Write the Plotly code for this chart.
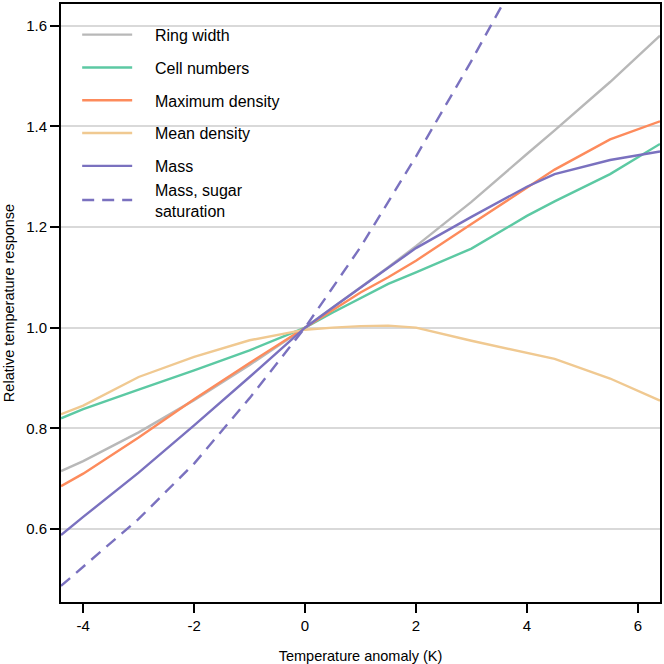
import plotly.graph_objects as go

# Temperature anomaly (K) sample points
temp = [-4.4, -4, -3, -2, -1, 0, 0.5, 1, 1.5, 2, 3, 4, 4.5, 5.5, 6.4]

ring_width = [0.715, 0.735, 0.792, 0.856, 0.926, 1.0, 1.04, 1.08, 1.12, 1.162, 1.25, 1.345, 1.392, 1.488, 1.58]
cell_numbers = [0.82, 0.838, 0.877, 0.915, 0.955, 1.0, 1.03, 1.058, 1.087, 1.11, 1.157, 1.222, 1.251, 1.305, 1.365]
max_density = [0.685, 0.71, 0.782, 0.858, 0.93, 1.0, 1.035, 1.07, 1.1, 1.133, 1.206, 1.278, 1.314, 1.374, 1.41]
mean_density = [0.828, 0.845, 0.902, 0.942, 0.975, 0.996, 1.0, 1.003, 1.004, 1.0, 0.974, 0.95, 0.938, 0.899, 0.855]
mass = [0.588, 0.624, 0.712, 0.806, 0.902, 1.0, 1.04, 1.08, 1.119, 1.158, 1.22, 1.28, 1.305, 1.333, 1.35]

temp_sugar = [-4.4, -4, -3, -2, -1, 0, 1, 2, 3, 4]
mass_sugar = [0.487, 0.525, 0.62, 0.73, 0.86, 1.0, 1.16, 1.34, 1.53, 1.73]

x_ticks = [-4, -2, 0, 2, 4, 6]
x_ticklabels = ["-4", "-2", "0", "2", "4", "6"]
y_ticks = [0.6, 0.8, 1.0, 1.2, 1.4, 1.6]
y_ticklabels = ["0.6", "0.8", "1.0", "1.2", "1.4", "1.6"]

pad = "\u00a0" * 4
# name, x, y, colour, dash, legend group (the two mass lines share one so no gap between them)
series = [
    ("Ring width", temp, ring_width, "#b8b8b8", "solid", "a"),
    ("Cell numbers", temp, cell_numbers, "#5cc9a3", "solid", "b"),
    ("Maximum density", temp, max_density, "#fd8b5c", "solid", "c"),
    ("Mean density", temp, mean_density, "#f0c991", "solid", "d"),
    ("Mass", temp, mass, "#7a71bf", "solid", "e"),
    ("Mass, sugar<br>" + pad + "saturation", temp_sugar, mass_sugar, "#7a71bf", "12px,8px", "e"),
]

fig = go.Figure()
for name, xs, ys, col, dash, grp in series:
    fig.add_trace(go.Scatter(
        x=xs, y=ys, mode="lines", name=pad + name, legendgroup=grp,
        line=dict(color=col, width=2.4, dash=dash),
    ))

axis_common = dict(
    showline=True, linecolor="#000000", linewidth=2, mirror=True,
    ticks="outside", ticklen=9, tickwidth=2, tickcolor="#000000",
    zeroline=False, tickfont=dict(size=15),
)

fig.update_layout(
    width=664, height=664,
    margin=dict(l=61, r=2, t=2, b=62),
    plot_bgcolor="white", paper_bgcolor="white",
    font=dict(family="Liberation Sans, Arial, sans-serif", color="black"),
    legend=dict(x=0.027, y=0.977, xanchor="left", yanchor="top",
                font=dict(size=16), tracegroupgap=9,
                bgcolor="rgba(0,0,0,0)", itemwidth=50),
    showlegend=True,
    xaxis=dict(
        range=[-4.4, 6.4], tickmode="array", tickvals=x_ticks, ticktext=x_ticklabels,
        showgrid=False,
        title=dict(text="Temperature anomaly (K)", font=dict(size=14.5), standoff=18),
        **axis_common,
    ),
    yaxis=dict(
        range=[0.455, 1.643], tickmode="array", tickvals=y_ticks, ticktext=y_ticklabels,
        showgrid=True, gridcolor="#d9d9d9", gridwidth=1.5,
        title=dict(text="Relative temperature response", font=dict(size=14.5), standoff=8),
        **axis_common,
    ),
)

# drop the browser's default body margin so the figure sits at the window corner
fig.write_html("out.html", config={"displayModeBar": False},
               post_script="document.body.style.margin='0';")
